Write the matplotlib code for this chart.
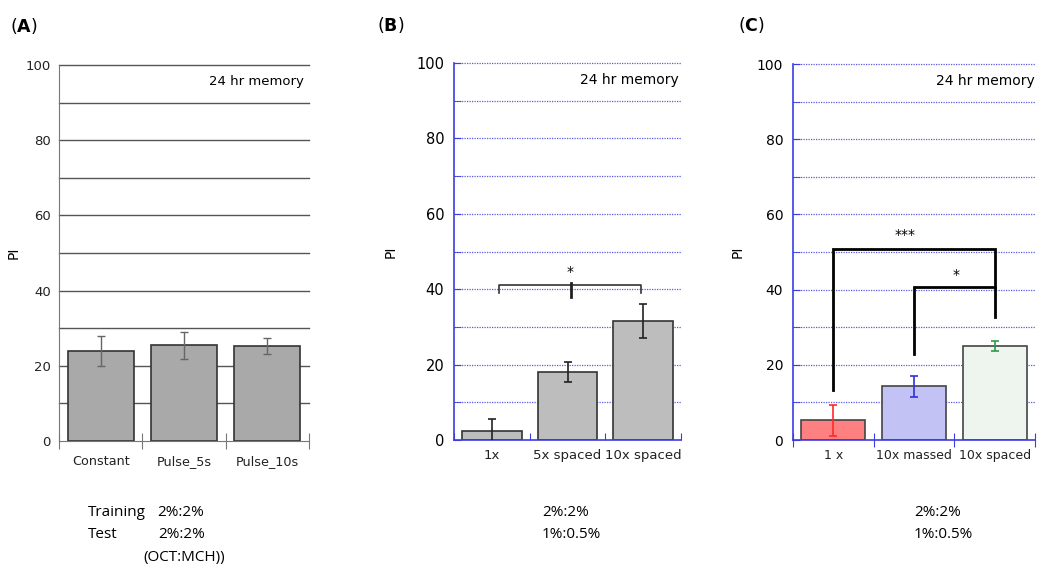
import numpy as np
import matplotlib
matplotlib.use("Agg")
import matplotlib.pyplot as plt

# ---- data ----
cats_a = ["Constant", "Pulse_5s", "Pulse_10s"]
pi_a = [24.0, 25.5, 25.2]
err_a = [4.0, 3.6, 2.1]

cats_b = ["1x", "5x spaced", "10x spaced"]
pi_b = [2.5, 18.0, 31.5]
err_b = [3.0, 2.7, 4.5]

cats_c = ["1 x", "10x massed", "10x spaced"]
pi_c = [5.2, 14.3, 25.0]
err_c = [4.2, 2.8, 1.3]

memory_label = "24 hr memory"
cond_a = [("Training", "2%:2%"), ("Test", "2%:2%")]
cond_a_note = "(OCT:MCH))"
cond_bc = ["2%:2%", "1%:0.5%"]

W, H = 1050, 570
fig = plt.figure(figsize=(W / 100, H / 100), dpi=100)
plt.rcParams['font.family'] = ['DejaVu Sans']


def px_axes(x0, x1, ytop, ybot):
    return fig.add_axes([x0 / W, 1 - ybot / H, (x1 - x0) / W, (ybot - ytop) / H])


x = np.arange(3) + 0.5
blue = "#3c3ce6"

# ---------------- panel A ----------------
ax = px_axes(59, 309, 65, 441)
ax.set_xlim(0, 3)
ax.set_ylim(0, 100)
for y in range(10, 101, 10):
    ax.axhline(y, color="#555555", lw=1.0, zorder=0, clip_on=False)
ax.bar(x, pi_a, width=0.79, color="#a9a9a9", edgecolor="#333333", lw=1.2, zorder=2)
ax.errorbar(x, pi_a, yerr=err_a, fmt="none", ecolor="#666666", elinewidth=1,
            capsize=3, capthick=1, zorder=3)
for s in ["top", "right"]:
    ax.spines[s].set_visible(False)
for s in ["left", "bottom"]:
    ax.spines[s].set_color("#777777")
ax.set_yticks(range(0, 101, 20))
ax.tick_params(axis="y", length=0, labelsize=9.5, labelcolor="#222222", pad=6)
ax.set_xticks([0, 1, 2, 3])
ax.set_xticklabels([])
ax.tick_params(axis="x", direction="inout", length=12, color="#777777")
for xi, c in zip(x, cats_a):
    ax.text(xi, -5.5, c, ha="center", va="center", fontsize=9.2, color="#222222")
ax.text(2.94, 95.5, memory_label, ha="right", va="center", fontsize=9.5)
ax.set_ylabel("PI", fontsize=10)
ax.yaxis.set_label_coords(-38 / 250, 0.5)
fig.text(10 / W, 1 - 26 / H, r"($\mathbf{A}$)", fontsize=12.5, va="center")

# ---------------- panel B ----------------
ax = px_axes(454, 681, 63, 440)
ax.set_xlim(0, 3)
ax.set_ylim(0, 100)
for y in range(10, 101, 10):
    ax.axhline(y, color="#5a5ae6", lw=0.9, ls=(0, (1, 1)), zorder=0, clip_on=False)
ax.bar(x, pi_b, width=0.79, color="#bdbdbd", edgecolor="#333333", lw=1.2, zorder=2)
ax.errorbar(x, pi_b, yerr=err_b, fmt="none", ecolor="#222222", elinewidth=1.2,
            capsize=3, capthick=1.2, zorder=3)
for s in ["top", "right"]:
    ax.spines[s].set_visible(False)
for s in ["left", "bottom"]:
    ax.spines[s].set_color(blue)
    ax.spines[s].set_linewidth(1.2)
ax.set_yticks(range(0, 101, 20))
ax.set_yticks(range(10, 100, 20), minor=True)
ax.tick_params(axis="y", which="both", direction="in", length=5, color=blue,
               labelsize=10.5, pad=7)
ax.set_xticks([0, 1, 2, 3])
ax.set_xticklabels([])
ax.tick_params(axis="x", direction="in", length=5, color=blue)
for xi, c in zip(x, cats_b):
    ax.text(xi, -4, c, ha="center", va="center", fontsize=9.5, color="#222222")
ax.text(2.97, 95.5, memory_label, ha="right", va="center", fontsize=10)
ax.set_ylabel("PI", fontsize=10)
ax.yaxis.set_label_coords(-56 / 227, 0.5)
# significance bracket
ax.plot([0.6, 0.6, 2.47, 2.47], [39, 41.2, 41.2, 39], color="#333333", lw=1.2, zorder=4)
ax.plot([1.54, 1.54], [41.6, 37.8], color="#222222", lw=2, zorder=4)
ax.text(1.54, 44.6, "*", ha="center", va="center", fontsize=10)
fig.text(377 / W, 1 - 25 / H, r"($\mathbf{B}$)", fontsize=12.5, va="center")

# ---------------- panel C ----------------
ax = px_axes(793, 1035, 64, 440)
ax.set_xlim(0, 3)
ax.set_ylim(0, 100)
for y in range(10, 101, 10):
    ax.axhline(y, color="#5a5ae6", lw=0.9, ls=(0, (1, 1)), zorder=0, clip_on=False)
ax.bar(x, pi_c, width=0.79, color=["#ff8080", "#c2c2f4", "#eef4ee"],
       edgecolor="#444444", lw=1.2, zorder=2)
for xi, v, e, ec in zip(x, pi_c, err_c, ["#ff2a2a", "#3030dd", "#2f9a4a"]):
    ax.errorbar([xi], [v], yerr=[e], fmt="none", ecolor=ec, elinewidth=1.2,
                capsize=3, capthick=1.2, zorder=3)
for s in ["top", "right"]:
    ax.spines[s].set_visible(False)
for s in ["left", "bottom"]:
    ax.spines[s].set_color(blue)
    ax.spines[s].set_linewidth(1.2)
ax.set_yticks(range(0, 101, 20))
ax.set_yticks(range(10, 100, 20), minor=True)
ax.tick_params(axis="y", which="both", direction="in", length=5, color=blue,
               labelsize=10, pad=7)
ax.set_xticks([0, 1, 2, 3])
ax.set_xticklabels([])
ax.tick_params(axis="x", direction="inout", length=10, color=blue)
for xi, c in zip(x, cats_c):
    ax.text(xi, -4.2, c, ha="center", va="center", fontsize=9, color="#222222")
ax.text(3.0, 95.5, memory_label, ha="right", va="center", fontsize=10)
ax.set_ylabel("PI", fontsize=10)
ax.yaxis.set_label_coords(-48 / 242, 0.5)
# significance brackets
ax.plot([0.5, 0.5, 2.5, 2.5], [13.3, 50.7, 50.7, 32.6], color="black", lw=2,
        zorder=4, solid_joinstyle="miter")
ax.plot([1.5, 1.5, 2.5], [23, 40.6, 40.6], color="black", lw=2, zorder=4,
        solid_joinstyle="miter")
ax.text(1.39, 54.6, "***", ha="center", va="center", fontsize=10)
ax.text(2.02, 44.0, "*", ha="center", va="center", fontsize=10)
fig.text(738 / W, 1 - 25 / H, r"($\mathbf{C}$)", fontsize=12.5, va="center")

# ---------------- condition text ----------------
tfont = dict(fontsize=11, va="center", family="Open Sans")
fig.text(88 / W, 1 - 512 / H, cond_a[0][0], **tfont)
fig.text(157 / W, 1 - 512 / H, cond_a[0][1], **tfont)
fig.text(88 / W, 1 - 534 / H, cond_a[1][0], **tfont)
fig.text(158 / W, 1 - 534 / H, cond_a[1][1], **tfont)
fig.text(143 / W, 1 - 558 / H, cond_a_note, **tfont)
for x0 in (542, 914):
    fig.text(x0 / W, 1 - 512 / H, cond_bc[0], **tfont)
    fig.text(x0 / W, 1 - 534 / H, cond_bc[1], **tfont)

fig.savefig("out.png", dpi=100)
